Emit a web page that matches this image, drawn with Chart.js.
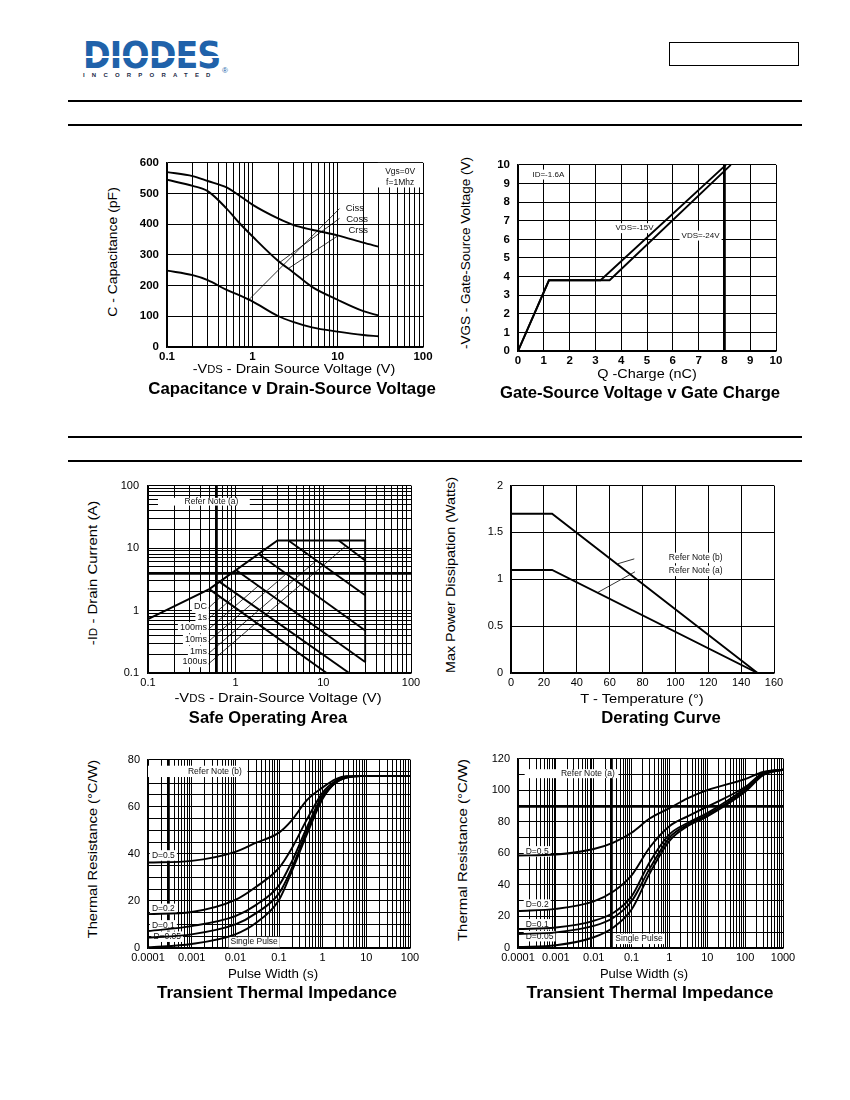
<!DOCTYPE html>
<html>
<head>
<meta charset="utf-8">
<title>MOSFET typical characteristics</title>
<script src="https://cdn.jsdelivr.net/npm/chart.js@4.4.1/dist/chart.umd.min.js"></script>
<style>
  html, body { margin: 0; padding: 0; background: #fff; }
  #page { position: relative; width: 850px; height: 1100px; overflow: hidden; background: #fff;
          font-family: "Liberation Sans", Arial, Helvetica, sans-serif; color: #000; }
  #page canvas { position: absolute; }
  .rule { position: absolute; left: 68px; width: 734px; height: 2.4px; background: #000; }
  .lbl { position: absolute; white-space: nowrap; line-height: 1; }
  .sc { font-size: 0.78em; }
  #logo { position: absolute; left: 83px; top: 36.8px; font-family: "DejaVu Sans", sans-serif; font-size: 37px;
          font-weight: bold; color: #2062aa; line-height: 1; letter-spacing: -1px;
          transform-origin: 0 0; transform: scale(0.9, 1); }
  #stripe { position: absolute; left: 80px; top: 55.6px; width: 148px; height: 2.4px; background: #fff; }
  #inc { position: absolute; left: 83px; top: 71.5px; font-size: 6px; font-weight: bold; color: #1d2b48;
         letter-spacing: 7.2px; line-height: 1; }
  #reg { position: absolute; left: 222px; top: 67px; font-size: 8px; color: #2062aa; line-height: 1; }
  #partbox { position: absolute; left: 669px; top: 42px; width: 130px; height: 24px; border: 1px solid #000; box-sizing: border-box; }
</style>
</head>
<body>
<div id="page">
  <div id="logo">DIODES</div>
  <div id="stripe"></div>
  <div id="inc">INCORPORATED</div>
  <div id="reg">&reg;</div>
  <div id="partbox"></div>
  <div class="rule" style="top:99.5px"></div>
  <div class="rule" style="top:124px"></div>
  <div class="rule" style="top:436px"></div>
  <div class="rule" style="top:460px"></div>
</div>
<script>
// ---------- data ----------
// Capacitance v Drain-Source Voltage
const capVds  = [0.1, 0.2, 0.3, 0.5, 0.7, 1, 2, 3, 5, 10, 20, 30];
const capCiss = [570, 557, 541, 520, 494, 464, 419, 398, 382, 364, 340, 327];
const capCoss = [545, 525, 508, 451, 405, 361, 281, 244, 196, 154, 117, 103];
const capCrss = [249, 234, 218, 186, 169, 149, 101, 82, 64, 50, 39, 35];
const capXTicks = ['0.1', '1', '10', '100'];
const capLeadCiss = [[10.5, 451], [0.895, 152]];
const capLeadCoss = [[10.5, 419], [2.1, 276]];
const capLeadCrss = [[10.0, 362], [2.62, 255]];

// Gate-Source Voltage v Gate Charge
const gcQ15 = [0, 1.2, 3.2, 8.06];
const gcV15 = [0, 3.8, 3.8, 10];
const gcQ24 = [0, 1.2, 3.55, 8.25];
const gcV24 = [0, 3.8, 3.8, 10];

// Safe Operating Area
const soaEnvV = [0.1, 0.5, 3, 30, 30];
const soaEnvI = [0.73, 2.2, 13.2, 13.2, 0.15];
const soa100usV = [15, 30];   const soa100usI = [13.2, 6.3];
const soa1msV   = [4, 30];    const soa1msI   = [13.2, 1.75];
const soa10msV  = [1.8, 30];  const soa10msI  = [8.2, 0.48];
const soa100msV = [1, 30];    const soa100msI = [4.5, 0.15];
const soa1sV    = [0.65, 19.7]; const soa1sI  = [2.9, 0.1];
const soaDcV    = [0.5, 10.9];  const soaDcI  = [2.2, 0.1];
const soaTicks = ['0.1', '1', '10', '100'];
const soaLeads = [
  [[0.49, 1.1], [0.67, 1.64]],
  [[0.49, 0.74], [1.05, 1.85]],
  [[0.49, 0.5], [1.81, 2.48]],
  [[0.49, 0.32], [3.8, 3.9]],
  [[0.49, 0.205], [8.25, 6.25]],
  [[0.49, 0.14], [17.9, 10.7]]
];

// Derating Curve
const drT  = [0, 25, 150];
const drPb = [1.7, 1.7, 0];
const drPa = [1.1, 1.1, 0];
const drLeadB = [[75, 1.218], [65, 1.166]];
const drLeadA = [[75.4, 1.08], [52.6, 0.858]];

// Transient Thermal Impedance, note (b)
const th1T   = [0.0001, 0.001, 0.01, 0.03, 0.1, 0.2, 0.43, 1, 2, 3.5, 10, 100];
const th1D05 = [36.3, 37, 40.8, 44.7, 49, 54.4, 62.7, 68.2, 71.7, 73, 73.1, 73.1];
const th1D02 = [14.4, 15.3, 20.4, 26, 34, 42.6, 54.4, 66, 71, 72.8, 73.1, 73.1];
const th1D01 = [7.2, 9.3, 13.5, 18.3, 26.6, 37, 51, 64.8, 70.3, 72.4, 73.1, 73.1];
const th1D005 = [4.4, 5.8, 10, 14.8, 23.2, 34.3, 49.5, 64, 70.3, 72.4, 73.1, 73.1];
const th1Sp  = [0.3, 1.7, 5.8, 10.7, 20.4, 32.9, 48, 63.4, 70.3, 72.4, 73.1, 73.1];
const th1XTicks = ['0.0001', '0.001', '0.01', '0.1', '1', '10', '100'];

// Transient Thermal Impedance, note (a)
const th2T   = [0.0001, 0.001, 0.01, 0.033, 0.1, 0.3, 1, 3, 10, 100, 300, 1000];
const th2D05 = [58.6, 59.2, 62.7, 66.8, 73, 82, 88.6, 94.8, 100, 107, 111.5, 113];
const th2D02 = [23.4, 24.8, 29.6, 35.8, 46, 63.7, 77.2, 83.4, 89.6, 102, 111, 113];
const th2D01 = [12, 13, 17.2, 22.3, 32.7, 54.4, 72, 79.2, 85.5, 101, 110.5, 113];
const th2D005 = [8.9, 9.9, 14, 19.2, 29.6, 50.3, 70, 78.2, 84.4, 100, 110, 113];
const th2Sp  = [0.6, 1.7, 6.8, 13, 24.4, 47.2, 67.9, 77.2, 83.4, 99, 109.5, 113];
const th2XTicks = ['0.0001', '0.001', '0.01', '0.1', '1', '10', '100', '1000'];

// ---------- helpers ----------
Chart.defaults.font.family = '"Liberation Sans", Arial, Helvetica, sans-serif';
Chart.defaults.font.size = 11;
Chart.defaults.color = '#000';

function logGrid(min, max) {
  const out = [];
  for (let e = Math.round(Math.log10(min)); e <= Math.round(Math.log10(max)); e++) {
    for (let m = 1; m <= 9; m++) {
      const v = +(m * Math.pow(10, e)).toPrecision(3);
      if (v >= min && v <= max) out.push(v);
    }
  }
  return out;
}

function gridStyle(thick) {
  return {
    color: '#000',
    drawTicks: false,
    lineWidth: c => (c.tick && thick.indexOf(c.tick.value) >= 0) ? 2.8 : 1
  };
}

function logAxis(min, max, labels, thick, pad) {
  return {
    type: 'logarithmic', min: min, max: max,
    afterBuildTicks: s => { s.ticks = logGrid(min, max).map(v => ({ value: v })); },
    ticks: { autoSkip: false, maxRotation: 0, padding: pad,
             callback: v => { const t = labels.find(l => +l === v); return t === undefined ? '' : t; } },
    grid: gridStyle(thick || []),
    border: { color: '#000', width: 1.5 }
  };
}

function linAxis(min, max, step, every, thick, pad) {
  return {
    type: 'linear', min: min, max: max,
    ticks: { stepSize: step, autoSkip: false, maxRotation: 0, padding: pad,
             callback: v => (Math.abs(v / every - Math.round(v / every)) < 1e-6) ? String(+v.toFixed(2)) : '' },
    grid: gridStyle(thick || []),
    border: { color: '#000', width: 1.5 }
  };
}

function bold(axis) { axis.ticks.font = { weight: 'bold', size: 11.5 }; return axis; }

function series(xs, ys, extra) {
  return Object.assign({
    data: xs.map((x, i) => ({ x: x, y: ys[i] })),
    borderColor: '#000', borderWidth: 1.9, pointRadius: 0, fill: false, tension: 0
  }, extra || {});
}
function smooth(xs, ys) { return series(xs, ys, { cubicInterpolationMode: 'monotone' }); }
function lead(pts) { return series(pts.map(p => p[0]), pts.map(p => p[1]), { borderWidth: 0.8 }); }

const notesPlugin = {
  id: 'notes',
  beforeDatasetsDraw(chart, args, opts) {
    const ctx = chart.ctx, xs = chart.scales.x, ys = chart.scales.y;
    ctx.save();
    ctx.fillStyle = '#fff';
    (opts.boxes || []).forEach(b => {
      const x0 = xs.getPixelForValue(b.x0), x1 = xs.getPixelForValue(b.x1);
      const y0 = ys.getPixelForValue(b.y0), y1 = ys.getPixelForValue(b.y1);
      ctx.fillRect(Math.min(x0, x1), Math.min(y0, y1), Math.abs(x1 - x0), Math.abs(y1 - y0));
    });
    (opts.items || []).forEach(n => {
      if (!n.box) return;
      const size = n.size || 8.5;
      ctx.font = size + 'px "Liberation Sans", Arial, sans-serif';
      const w = ctx.measureText(n.text).width;
      const px = xs.getPixelForValue(n.x), py = ys.getPixelForValue(n.y);
      const left = n.align === 'right' ? px - w : n.align === 'center' ? px - w / 2 : px;
      ctx.fillRect(left - 2, py - size * 0.62, w + 4, size * 1.24);
    });
    ctx.restore();
  },
  afterDatasetsDraw(chart, args, opts) {
    const ctx = chart.ctx, xs = chart.scales.x, ys = chart.scales.y;
    ctx.save();
    (opts.items || []).forEach(n => {
      const size = n.size || 8.5;
      ctx.font = size + 'px "Liberation Sans", Arial, sans-serif';
      const w = ctx.measureText(n.text).width;
      const px = xs.getPixelForValue(n.x), py = ys.getPixelForValue(n.y);
      const left = n.align === 'right' ? px - w : n.align === 'center' ? px - w / 2 : px;
      ctx.fillStyle = '#111';
      ctx.textBaseline = 'middle';
      ctx.fillText(n.text, left, py);
    });
    ctx.restore();
  }
};

// plot rectangle in page pixels; axes get fixed boxes so the plot lands there
function makeChart(area, datasets, scales, notes) {
  const yw = 44, xh = 22, tp = 10, rp = 16;
  const cv = document.createElement('canvas');
  cv.width = area.R - area.L + yw + rp;
  cv.height = area.B - area.T + tp + xh;
  cv.style.left = (area.L - yw) + 'px';
  cv.style.top = (area.T - tp) + 'px';
  document.getElementById('page').appendChild(cv);
  scales.x.afterFit = s => { s.height = xh; };
  scales.y.afterFit = s => { s.width = yw; };
  return new Chart(cv, {
    type: 'line',
    data: { datasets: datasets },
    options: {
      responsive: false,
      animation: false,
      layout: { padding: { top: tp, right: rp, left: 0, bottom: 0 } },
      plugins: { legend: { display: false }, tooltip: { enabled: false }, notes: notes },
      scales: scales
    },
    plugins: [notesPlugin]
  });
}

// ---------- charts ----------
makeChart({ L: 167, T: 158, R: 423, B: 347 },
  [smooth(capVds, capCiss), smooth(capVds, capCoss), smooth(capVds, capCrss),
   lead(capLeadCiss), lead(capLeadCoss), lead(capLeadCrss)],
  { x: bold(logAxis(0.1, 100, capXTicks, [], 3)), y: bold(linAxis(0, 600, 100, 100, [], 8)) },
  { boxes: [{ x0: 29.5, x1: 100, y0: 520, y1: 600 }],
    items: [
      { x: 54, y: 571, text: 'Vgs=0V', align: 'center', size: 8.5 },
      { x: 54, y: 537, text: 'f=1Mhz', align: 'center', size: 8.5 },
      { x: 12.4, y: 451, text: 'Ciss', size: 9.5 },
      { x: 12.6, y: 417, text: 'Coss', size: 9.5 },
      { x: 13.4, y: 381, text: 'Crss', size: 9.5 }
    ] });

makeChart({ L: 518, T: 160, R: 776, B: 351 },
  [series(gcQ15, gcV15), series(gcQ24, gcV24)],
  { x: bold(linAxis(0, 10, 1, 1, [8], 3)), y: bold(linAxis(0, 10, 1, 1, [], 8)) },
  { items: [
      { x: 0.56, y: 9.48, text: 'ID=-1.6A', box: true, size: 8 },
      { x: 3.78, y: 6.6, text: 'VDS=-15V', box: true, size: 8 },
      { x: 6.34, y: 6.2, text: 'VDS=-24V', box: true, size: 8 }
    ] });

makeChart({ L: 148, T: 480, R: 411, B: 673 },
  [series(soaEnvV, soaEnvI), series(soa100usV, soa100usI), series(soa1msV, soa1msI),
   series(soa10msV, soa10msI), series(soa100msV, soa100msI), series(soa1sV, soa1sI),
   series(soaDcV, soaDcI)].concat(soaLeads.map(lead)),
  { x: logAxis(0.1, 100, soaTicks, [0.6], 3), y: logAxis(0.1, 100, soaTicks, [4], 9) },
  { boxes: [{ x0: 0.13, x1: 1.45, y0: 47.9, y1: 63.7 }],
    items: [
      { x: 0.53, y: 55.2, text: 'Refer Note (a)', align: 'center', size: 8.5 },
      { x: 0.47, y: 1.15, text: 'DC', align: 'right', box: true, size: 9 },
      { x: 0.47, y: 0.78, text: '1s', align: 'right', box: true, size: 9 },
      { x: 0.47, y: 0.53, text: '100ms', align: 'right', box: true, size: 9 },
      { x: 0.47, y: 0.34, text: '10ms', align: 'right', box: true, size: 9 },
      { x: 0.47, y: 0.22, text: '1ms', align: 'right', box: true, size: 9 },
      { x: 0.47, y: 0.152, text: '100us', align: 'right', box: true, size: 9 }
    ] });

makeChart({ L: 511, T: 481, R: 774, B: 673 },
  [series(drT, drPb), series(drT, drPa), lead(drLeadB), lead(drLeadA)],
  { x: linAxis(0, 160, 20, 20, [], 3), y: linAxis(0, 2, 0.5, 0.5, [], 8) },
  { items: [
      { x: 96, y: 1.228, text: 'Refer Note (b)', box: true, size: 8.5 },
      { x: 96, y: 1.09, text: 'Refer Note (a)', box: true, size: 8.5 }
    ] });

makeChart({ L: 148, T: 755, R: 410, B: 948 },
  [smooth(th1T, th1D05), smooth(th1T, th1D02), smooth(th1T, th1D01), smooth(th1T, th1D005), smooth(th1T, th1Sp)],
  { x: logAxis(0.0001, 100, th1XTicks, [0.0003], 3), y: linAxis(0, 80, 5, 20, [], 8) },
  { boxes: [{ x0: 0.0001, x1: 0.019, y0: 72.6, y1: 77.4 }],
    items: [
      { x: 0.0034, y: 75, text: 'Refer Note (b)', align: 'center', size: 8.5 },
      { x: 0.000123, y: 39.3, text: 'D=0.5', box: true, size: 8.5 },
      { x: 0.000123, y: 16.6, text: 'D=0.2', box: true, size: 8.5 },
      { x: 0.000123, y: 9.6, text: 'D=0.1', box: true, size: 8.5 },
      { x: 0.000133, y: 4.8, text: 'D=0.05', box: true, size: 8.5 },
      { x: 0.027, y: 2.5, text: 'Single Pulse', align: 'center', box: true, size: 8.5 }
    ] });

makeChart({ L: 518, T: 754, R: 783, B: 948 },
  [smooth(th2T, th2D05), smooth(th2T, th2D02), smooth(th2T, th2D01), smooth(th2T, th2D005), smooth(th2T, th2Sp)],
  { x: logAxis(0.0001, 1000, th2XTicks, [0.03], 3), y: linAxis(0, 120, 10, 20, [90], 8) },
  { boxes: [{ x0: 0.00015, x1: 0.045, y0: 107.6, y1: 113.3 }],
    items: [
      { x: 0.007, y: 110.5, text: 'Refer Note (a)', align: 'center', size: 8.5 },
      { x: 0.00016, y: 61.2, text: 'D=0.5', box: true, size: 8.5 },
      { x: 0.00016, y: 27.5, text: 'D=0.2', box: true, size: 8.5 },
      { x: 0.00016, y: 15, text: 'D=0.1', box: true, size: 8.5 },
      { x: 0.00016, y: 7.5, text: 'D=0.05', box: true, size: 8.5 },
      { x: 0.157, y: 5.8, text: 'Single Pulse', align: 'center', box: true, size: 8.5 }
    ] });

// ---------- axis titles and chart captions (page text) ----------
const captions = [
  { html: '-V<span class="sc">DS</span> - Drain Source Voltage (V)', cx: 294, cy: 369, size: 13, w: 202 },
  { html: 'Capacitance v Drain-Source Voltage', cx: 292, cy: 389, size: 16, bold: true, w: 288 },
  { html: 'C - Capacitance (pF)', cx: 112, cy: 252, size: 13, w: 130, rot: true },

  { html: 'Q -Charge (nC)', cx: 647, cy: 373, size: 13, w: 100 },
  { html: 'Gate-Source Voltage v Gate Charge', cx: 640, cy: 393, size: 16, bold: true, w: 280 },
  { html: '-VGS - Gate-Source Voltage (V)', cx: 465, cy: 253, size: 13, w: 192, rot: true },

  { html: '-V<span class="sc">DS</span> - Drain-Source Voltage (V)', cx: 278, cy: 698, size: 13, w: 207 },
  { html: 'Safe Operating Area', cx: 268, cy: 718, size: 16, bold: true, w: 158 },
  { html: '-I<span class="sc">D</span> - Drain Current (A)', cx: 93, cy: 573, size: 13, w: 147, rot: true },

  { html: 'T - Temperature (&deg;)', cx: 642, cy: 698, size: 13, w: 123 },
  { html: 'Derating Curve', cx: 661, cy: 718, size: 16, bold: true, w: 120 },
  { html: 'Max Power Dissipation (Watts)', cx: 450, cy: 575, size: 13, w: 196, rot: true },

  { html: 'Pulse Width (s)', cx: 273, cy: 973, size: 13, w: 90 },
  { html: 'Transient Thermal Impedance', cx: 277, cy: 993, size: 16, bold: true, w: 240 },
  { html: 'Thermal Resistance (&deg;C/W)', cx: 92, cy: 849, size: 13, w: 178, rot: true },

  { html: 'Pulse Width (s)', cx: 644, cy: 973, size: 13, w: 88 },
  { html: 'Transient Thermal Impedance', cx: 650, cy: 993, size: 16, bold: true, w: 247 },
  { html: 'Thermal Resistance (&deg;C/W)', cx: 462, cy: 850, size: 13, w: 183, rot: true }
];

captions.forEach(c => {
  const d = document.createElement('div');
  d.className = 'lbl';
  d.innerHTML = c.html;
  d.style.fontSize = c.size + 'px';
  if (c.bold) d.style.fontWeight = 'bold';
  d.style.left = c.cx + 'px';
  d.style.top = c.cy + 'px';
  document.getElementById('page').appendChild(d);
  const k = Math.max(0.8, Math.min(1.15, c.w / d.offsetWidth));
  d.style.transform = 'translate(-50%, -50%)' + (c.rot ? ' rotate(-90deg)' : '') + ' scale(' + k.toFixed(3) + ', 1)';
});
</script>
</body>
</html>
